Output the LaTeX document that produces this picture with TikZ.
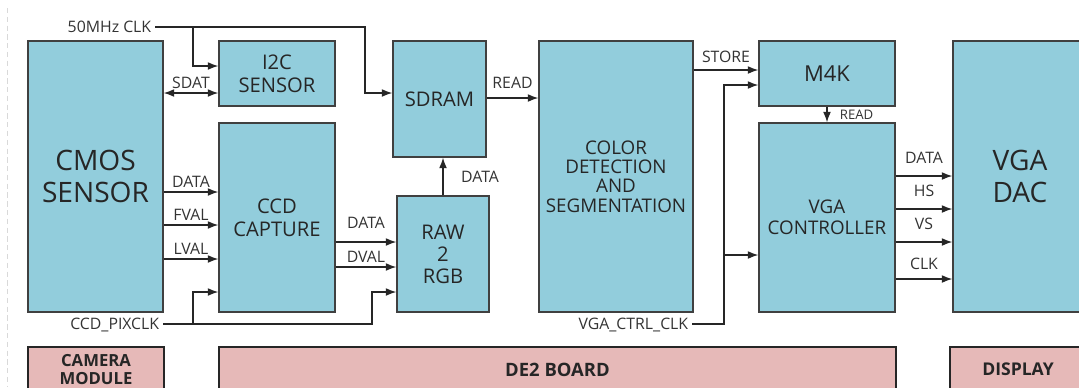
\documentclass[tikz,border=0pt]{standalone}
\usepackage{fontspec}
\setmainfont{Open Sans}
\usetikzlibrary{positioning,arrows.meta}
\definecolor{boxblue}{RGB}{146,205,220}
\definecolor{boxpink}{RGB}{230,185,184}

\begin{document}
\begin{tikzpicture}[x=0.02cm, y=-0.02cm,
  blk/.style={draw=black!75, fill=boxblue, line width=0.8pt, align=center, inner sep=0pt, text=black!85},
  part/.style={draw=black!85, fill=boxpink, line width=1.4pt, align=center, inner sep=0pt,
    minimum height=0.9cm, font=\fontsize{10}{11}\selectfont\bfseries, text=black!85},
  sig/.style={line width=0.7pt, draw=black!85, -{Latex[length=6pt,width=4.5pt]}},
  bisig/.style={sig, {Latex[length=6pt,width=4.5pt]}-{Latex[length=6pt,width=4.5pt]}},
  lbl/.style={font=\fontsize{9}{10}\selectfont, inner sep=2pt, text depth=0pt, text=black!80}]
\useasboundingbox (0,0) rectangle (1079,387);
\draw[black!15, densely dashed] (7,8) -- (7,387);

% processing blocks
\node[blk, minimum width=2.7cm, minimum height=5.42cm, font=\fontsize{16}{18.5}\selectfont] (cmos) at (95.5,176.5) {CMOS\\SENSOR};
\node[blk, minimum width=2.32cm, minimum height=1.3cm, font=\fontsize{11.5}{13}\selectfont] (i2c) at (277,73.5) {I2C\\SENSOR};
\node[blk, minimum width=2.32cm, minimum height=3.78cm, font=\fontsize{11.5}{13}\selectfont] (ccd) at (277,217.5) {CCD\\CAPTURE};
\node[blk, minimum width=1.86cm, minimum height=2.32cm, font=\fontsize{11.5}{13}\selectfont] (sdram) at (439.5,99) {SDRAM};
\node[blk, minimum width=1.84cm, minimum height=2.32cm, font=\fontsize{11.5}{12.5}\selectfont] (raw) at (443,254) {RAW\\2\\RGB};
\node[blk, minimum width=3.08cm, minimum height=5.42cm, font=\fontsize{10.7}{11}\selectfont] (color) at (616,176.5) {COLOR\\DETECTION\\AND\\SEGMENTATION};
\node[blk, minimum width=2.72cm, minimum height=1.3cm, font=\fontsize{12.5}{14}\selectfont] (m4k) at (827,73.5) {M4K};
\node[blk, minimum width=2.72cm, minimum height=3.78cm, font=\fontsize{10.7}{12}\selectfont] (vga) at (827,217.5) {VGA\\CONTROLLER};
\node[blk, minimum width=2.68cm, minimum height=5.42cm, font=\fontsize{16}{18.5}\selectfont] (dac) at (1020,176.5) {VGA\\DAC};

% board parts
\node[part, minimum width=2.72cm, font=\fontsize{9.5}{10.5}\selectfont\bfseries] (camera) at (96,369.5) {CAMERA\\MODULE};
\node[part, minimum width=13.54cm, font=\fontsize{10.5}{12}\selectfont\bfseries] (board) at (557.5,369.5) {DE2 BOARD};
\node[part, minimum width=2.72cm] (display) at (1018,369.5) {DISPLAY};

% clock sources
\node[lbl, anchor=east] (clk) at (155,27) {50MHz CLK};
\node[lbl, anchor=east] (pix) at (163,324) {CCD\_PIXCLK};
\node[lbl, anchor=east] (vclk) at (692,324) {VGA\_CTRL\_CLK};
\coordinate (cbr) at (193,27);
\coordinate (cbus) at (365,27);
\coordinate (pbr) at (193,324);
\coordinate (pbus) at (372,324);
\coordinate (vbus) at (724,324);

\draw[sig] (clk.east) -- (cbus) |- (sdram.west |- 0,93);
\draw[sig] (cbr) |- (i2c.west |- 0,66);
\draw[sig] (pix.east) -- (pbus) |- (raw.west |- 0,292);
\draw[sig] (pbr) |- (ccd.west |- 0,292);
\draw[sig] (vclk.east) -- (vbus) |- (m4k.west |- 0,85);
\draw[sig] (vbus |- 0,255) -- (vga.west |- 0,255);

% data paths
\draw[bisig] (cmos.east |- 0,93) -- node[lbl, above] {SDAT} (i2c.west |- 0,93);
\draw[sig] (cmos.east |- 0,192) -- node[lbl, above] {DATA} (ccd.west |- 0,192);
\draw[sig] (cmos.east |- 0,225) -- node[lbl, above] {FVAL} (ccd.west |- 0,225);
\draw[sig] (cmos.east |- 0,259) -- node[lbl, above] {LVAL} (ccd.west |- 0,259);
\draw[sig] (ccd.east |- 0,242) -- node[lbl, above=5.5pt] {DATA} (raw.west |- 0,242);
\draw[sig] (ccd.east |- 0,267) -- node[lbl, above] {DVAL} (raw.west |- 0,267);
\draw[sig] (raw.north) -- node[lbl, right=8pt] {DATA} (raw.north |- sdram.south);
\draw[sig] (sdram.east |- 0,98) -- node[lbl, above=2.8pt] {READ} (color.west |- 0,98);
\draw[sig] (color.east |- 0,70) -- node[lbl, above=1.8pt] {STORE} (m4k.west |- 0,70);
\draw[sig] (m4k.south) -- node[lbl, right=5pt, font=\fontsize{7.5}{9}\selectfont] {READ} (vga.north);
\draw[sig] (vga.east |- 0,176) -- node[lbl, above=5pt] {DATA} (dac.west |- 0,176);
\draw[sig] (vga.east |- 0,209) -- node[lbl, above=5pt] {HS} (dac.west |- 0,209);
\draw[sig] (vga.east |- 0,242) -- node[lbl, above=5pt] {VS} (dac.west |- 0,242);
\draw[sig] (vga.east |- 0,279) -- node[lbl, above=2.8pt] {CLK} (dac.west |- 0,279);
\end{tikzpicture}
\end{document}
